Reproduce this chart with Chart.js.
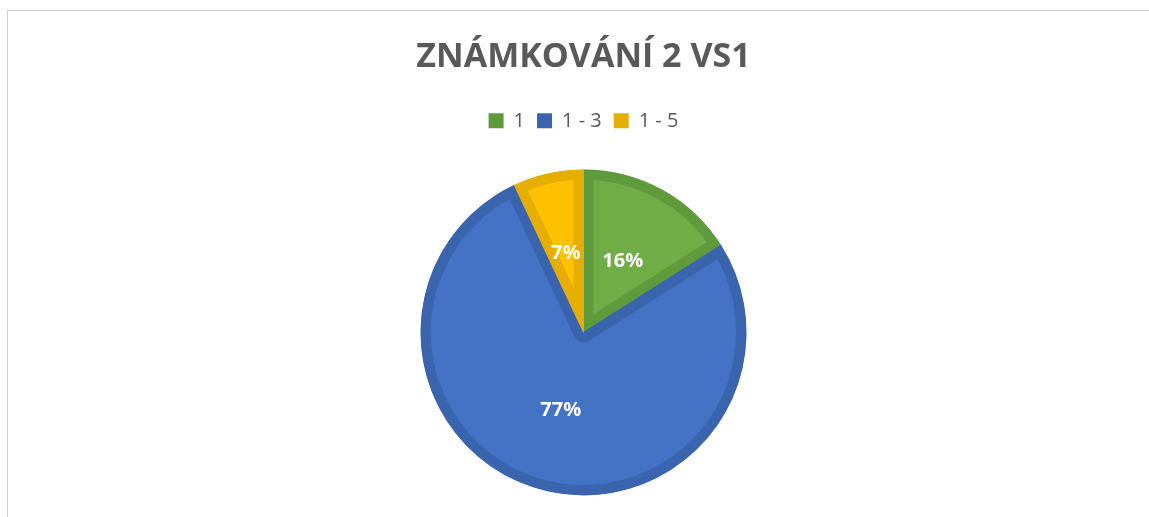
<!DOCTYPE html>
<html>
<head>
<meta charset="utf-8">
<script src="https://cdn.jsdelivr.net/npm/chart.js@4"></script>
<style>
  html, body { margin: 0; padding: 0; background: #fff; overflow: hidden; }
  #wrap { position: relative; width: 1149px; height: 524px; }
  #frame { position: absolute; left: 7px; top: 10px; width: 1200px; height: 600px; border: 1px solid #d0d0d0; }
  #chart { position: absolute; left: 0; top: 0; }
</style>
</head>
<body>
<div id="wrap">
  <div id="frame"></div>
  <canvas id="chart" width="1149" height="524"></canvas>
</div>
<script>
const categories = ["1", "1 - 3", "1 - 5"];
const values = [16, 77, 7];
const fillColors = ["#70ad47", "#4472c4", "#ffc000"];
const edgeColors = ["#5f9a3c", "#3a64ae", "#e6ae00"];

// white percentage labels in the middle of each slice
const sliceLabels = {
  id: "sliceLabels",
  afterDatasetsDraw(chart) {
    const ctx = chart.ctx;
    const meta = chart.getDatasetMeta(0);
    const total = values.reduce((a, b) => a + b, 0);
    ctx.save();
    ctx.fillStyle = "#ffffff";
    ctx.font = "bold 20px 'Open Sans'";
    ctx.textAlign = "center";
    ctx.textBaseline = "middle";
    meta.data.forEach((arc, i) => {
      const pos = arc.tooltipPosition();
      ctx.fillText(Math.round(values[i] / total * 100) + "%", pos.x, pos.y);
    });
    ctx.restore();
  }
};

document.addEventListener("DOMContentLoaded", () => {
  const ctx = document.getElementById("chart").getContext("2d");

  new Chart(ctx, {
    type: "pie",
    data: {
      labels: categories,
      datasets: [{
        data: values,
        backgroundColor: fillColors,
        borderColor: edgeColors,
        borderWidth: 10,
        borderAlign: "inner"
      }]
    },
    options: {
      responsive: false,
      animation: false,
      events: [],
      radius: 163,
      layout: { padding: { left: 18, top: 0, right: 0, bottom: 0 } },
      plugins: {
        title: {
          display: true,
          text: "ZNÁMKOVÁNÍ 2 VS1",
          color: "#595959",
          font: { family: "'Open Sans'", size: 34, weight: "bold" },
          padding: { top: 37, bottom: 21 }
        },
        legend: {
          position: "top",
          labels: {
            color: "#595959",
            font: { family: "'Open Sans'", size: 20 },
            boxWidth: 15,
            boxHeight: 15,
            padding: 12,
            generateLabels: () => categories.map((c, i) => ({
              text: c,
              fillStyle: edgeColors[i],
              strokeStyle: edgeColors[i],
              lineWidth: 0,
              fontColor: "#595959",
              hidden: false,
              index: i
            }))
          }
        },
        tooltip: { enabled: false }
      }
    },
    plugins: [sliceLabels]
  });
});
</script>
</body>
</html>
